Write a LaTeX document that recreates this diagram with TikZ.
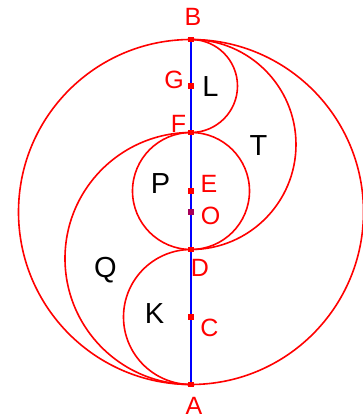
\documentclass[tikz,border=0pt]{standalone}
\usepackage{fontspec}
\setmainfont{Liberation Sans}
\usepackage{tikz}
\usetikzlibrary{positioning}
\definecolor{arcred}{HTML}{FF0000}
\definecolor{axisblue}{HTML}{0000FF}
\tikzset{
  curve/.style={draw=arcred,line width=1.6pt},
  axis/.style={draw=axisblue,line width=1.6pt},
  dot/.style={rectangle,fill=arcred,inner sep=0pt,minimum size=5.5pt},
  ptlbl/.style={text=arcred,inner sep=1pt,font=\fontsize{25}{28}\selectfont},
  rglbl/.style={text=black,inner sep=1pt,font=\fontsize{29}{33}\selectfont},
}
\begin{document}
\begin{tikzpicture}[x=1pt,y=1pt]
  \useasboundingbox (0,0) rectangle (362,418);
  % points on the axis
  \coordinate (O) at (191,206);
  \coordinate (B) at (191,378.5);
  \coordinate (G) at (191,332);
  \coordinate (F) at (191,285.5);
  \coordinate (E) at (191,227);
  \coordinate (D) at (191,168.5);
  \coordinate (C) at (191,101);
  \coordinate (A) at (191,33.5);
  % circles and arcs
  \draw[curve] (O) circle (172.5);
  \draw[curve] (E) circle (58.5);
  \draw[curve] (B) arc[start angle=90,end angle=-90,radius=46.5];
  \draw[curve] (B) arc[start angle=90,end angle=-90,radius=105];
  \draw[curve] (F) arc[start angle=90,end angle=270,radius=126];
  \draw[curve] (D) arc[start angle=90,end angle=270,radius=67.5];
  \draw[axis] (B) -- (A);
  % dots
  \foreach \p in {B,G,F,E,D,C,A}
    \node[dot] (d\p) at (\p) {};
  \node[dot,fill=arcred!65!axisblue] (dO) at (O) {};
  % labels
  \node[ptlbl] (lB) at (193,401.5) {B};
  \node[ptlbl] (lG) at (174,338.5) {G};
  \node[ptlbl] (lF) at (178.5,294.5) {F};
  \node[ptlbl] (lE) at (209,234) {E};
  \node[ptlbl] (lO) at (210.5,202.5) {O};
  \node[ptlbl] (lD) at (200,150) {D};
  \node[ptlbl] (lC) at (209.5,90.5) {C};
  \node[ptlbl] (lA) at (194,12.5) {A};
  \node[rglbl] (lL) at (210.5,331.5) {L};
  \node[rglbl] (lT) at (258.5,272) {T};
  \node[rglbl] (lP) at (160.5,234) {P};
  \node[rglbl] (lQ) at (105.5,148) {Q};
  \node[rglbl] (lK) at (154.5,104.5) {K};
\end{tikzpicture}
\end{document}
